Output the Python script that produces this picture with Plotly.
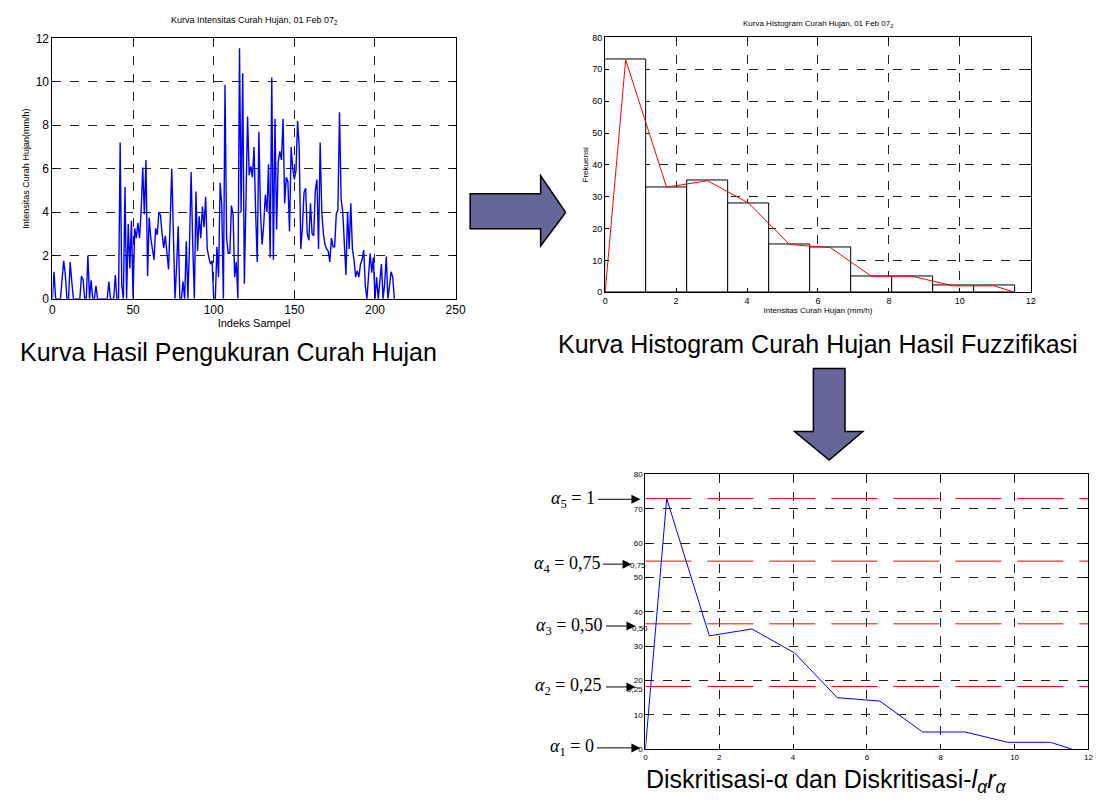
import plotly.graph_objects as go

W, H = 1109, 805

# ---------------- data ----------------
rain_intensity = [
    0, 1.25, 0, 0, 0, 0, 0.9, 1.75, 1.1, 0, 0, 1.7, 0.8, 0, 0, 0, 0, 0, 1.05, 0.9,
    0, 0, 2.0, 0, 0.85, 0, 0, 0.6, 0, 0, 0, 0, 0, 0, 0, 0.8, 0, 0, 0, 1.1,
    0, 0, 7.2, 0.6, 0, 5.15, 0, 3.45, 1.4, 3.6, 0, 3.25, 2.8, 3.5, 2.8, 4.0, 6.05, 3.9, 6.4, 1.05,
    3.75, 2.8, 2.3, 1.8, 3.25, 2.95, 4.0, 3.85, 3.0, 2.35, 2.9, 2.0, 1.35, 3.5, 6.0, 3.0, 0, 1.5, 3.35, 0,
    0, 0.8, 0, 2.65, 0, 2.5, 5.85, 2.5, 0, 4.95, 2.2, 3.8, 2.8, 4.25, 3.3, 4.7, 2.3, 1.9, 1.6, 1.75,
    0, 0, 2.4, 1.0, 5.35, 4.3, 0, 9.85, 2.8, 2.1, 2.1, 4.3, 3.9, 1.0, 1.7, 0, 11.55, 4.0, 10.4, 0.7,
    4.0, 8.4, 5.7, 6.1, 5.6, 7.0, 4.0, 1.7, 7.7, 4.0, 2.5, 3.4, 4.8, 4.0, 6.2, 1.9, 10.2, 1.8, 8.3, 3.2,
    6.3, 6.8, 6.4, 8.3, 4.4, 5.6, 5.4, 3.1, 7.0, 6.0, 5.5, 5.9, 8.2, 7.0, 2.3, 3.3, 4.9, 5.1, 3.0, 2.7,
    4.4, 3.0, 2.9, 5.0, 5.5, 2.3, 7.2, 4.0, 3.0, 2.5, 2.3, 2.2, 1.7, 2.8, 2.4, 2.4, 3.9, 4.1, 8.6, 4.6,
    4.0, 2.5, 1.1, 4.0, 2.3, 4.4, 2.3, 1.8, 1.0, 1.3, 1.0, 1.6, 1.8, 2.25, 0.6, 0, 1.0, 2.1, 1.2, 1.9,
    0, 1.0, 0, 0.8, 1.6, 0, 0.7, 1.95, 0, 0.6, 1.25, 1.0, 0,
]
sample_index = list(range(len(rain_intensity)))

hist_max = 11.55
hist_bins = 10
hist_counts = [73, 33, 35, 28, 15, 14, 5, 5, 2, 2]
bin_width = hist_max / hist_bins
bin_centers = [(i + 0.5) * bin_width for i in range(hist_bins)]

poly_x = [0] + bin_centers + [hist_max]
poly_y = [0] + hist_counts + [0]

alpha_levels = [0, 0.25, 0.50, 0.75, 1]
alpha_labels = ["0", "0,25", "0,50", "0,75", "1"]
alpha_cut = [a * max(hist_counts) for a in alpha_levels]

x_ticks1 = [0, 50, 100, 150, 200, 250]
y_ticks1 = [0, 2, 4, 6, 8, 10, 12]
x_ticks2 = [0, 2, 4, 6, 8, 10, 12]
y_ticks2 = [0, 10, 20, 30, 40, 50, 60, 70, 80]

# ---------------- helpers ----------------
def PX(x):
    return x / W


def PY(y):
    return 1 - y / H


FONT = "Liberation Sans, Arial, sans-serif"
SERIF = "Liberation Serif, Times New Roman, serif"

fig = go.Figure()

# Plot 1: rainfall intensity
fig.add_trace(go.Scatter(x=sample_index, y=rain_intensity, mode="lines",
                         line=dict(color="#0000FF", width=1.4),
                         xaxis="x", yaxis="y", showlegend=False))

# Plot 2: histogram
fig.add_trace(go.Bar(x=bin_centers, y=hist_counts, width=bin_width,
                     marker=dict(color="white", line=dict(color="black", width=1)),
                     xaxis="x2", yaxis="y2", showlegend=False))
fig.add_trace(go.Scatter(x=poly_x, y=poly_y, mode="lines",
                         line=dict(color="#FF0000", width=1),
                         xaxis="x2", yaxis="y2", showlegend=False))

# Plot 3: discretisation
for c in alpha_cut[1:]:
    fig.add_trace(go.Scatter(x=[0, 12], y=[c, c], mode="lines",
                             line=dict(color="#FF0000", width=1, dash="46px,16px"),
                             xaxis="x3", yaxis="y3", showlegend=False))
fig.add_trace(go.Scatter(x=poly_x, y=poly_y, mode="lines",
                         line=dict(color="#0000FF", width=1),
                         xaxis="x3", yaxis="y3", showlegend=False))


def axis_style(domain, rng, ticks, size, anchor):
    return dict(domain=domain, range=rng, tickvals=ticks, ticktext=[str(t) for t in ticks],
                showline=True, linecolor="black", linewidth=1, mirror="ticks",
                ticks="inside", ticklen=4, tickcolor="black",
                showgrid=True, gridcolor="#222222", griddash="dash", gridwidth=1,
                zeroline=False, anchor=anchor,
                tickfont=dict(family=FONT, size=size, color="black"))


xa1 = axis_style([PX(50), PX(458)], [0, 250], x_ticks1, 12, "y")
xa1["title"] = dict(text="Indeks Sampel", font=dict(family=FONT, size=11, color="black"), standoff=2)
ya1 = axis_style([PY(297), PY(32)], [0, 12], y_ticks1, 12, "x")
ya1["title"] = dict(text="Intensitas Curah Hujan(mm/h)", font=dict(family=FONT, size=9, color="black"), standoff=4)

xa2 = axis_style([PX(609.3), PX(1040)], [0, 12], x_ticks2, 9, "y2")
xa2["title"] = dict(text="Intensitas Curah Hujan (mm/h)", font=dict(family=FONT, size=8, color="black"), standoff=1)
ya2 = axis_style([PY(290.3), PY(31)], [0, 80], y_ticks2, 9, "x2")
ya2["title"] = dict(text="Frekuensi", font=dict(family=FONT, size=8, color="black"), standoff=2)

xa3 = axis_style([PX(650), PX(1098.3)], [0, 12], x_ticks2, 8, "y3")
ya3 = axis_style([PY(755.3), PY(475.7)], [0, 80], y_ticks2, 8, "x3")


def txt(text, xpx, ypx, size, family=FONT, xanchor="center"):
    return dict(text=text, x=PX(xpx), y=PY(ypx), xref="paper", yref="paper",
                xanchor=xanchor, yanchor="middle", showarrow=False,
                font=dict(family=family, size=size, color="black"))


annotations = [
    txt("Kurva Intensitas Curah Hujan, 01 Feb 07<sub>2</sub>", 254, 14, 9),
    txt("Kurva Histogram Curah Hujan, 01 Feb 07<sub>2</sub>", 825, 17, 8),
    txt("Kurva Hasil Pengukuran Curah Hujan", 228, 351, 25),
    txt("Kurva Histogram Curah Hujan Hasil Fuzzifikasi", 825, 343, 25),
    txt("Diskritisasi-α dan Diskritisasi-<i>l<sub>α</sub>r<sub>α</sub></i>", 833, 788, 25),
]

# alpha labels + arrows (text right edge px, arrow tail px, arrow tip px, y px)
alpha_ann = [
    (0, 600, 600, 645, 754),
    (1, 607, 609, 640, 692),
    (2, 608, 609, 640, 630),
    (3, 606, 606, 636, 567),
    (4, 601, 601, 645, 501),
]
for idx, tr, tail, tip, ypx in alpha_ann:
    label = "<i>α</i><sub>%d</sub> = %s" % (idx + 1, alpha_labels[idx])
    annotations.append(txt(label, tr, ypx, 18, family=SERIF, xanchor="right"))
    annotations.append(dict(text="", x=PX(tip), y=PY(ypx), xref="paper", yref="paper",
                            showarrow=True, ax=tail - tip, ay=0, arrowhead=2, arrowsize=1.8,
                            arrowwidth=1, arrowcolor="black"))

# extra small tick labels at alpha cuts
for lab, xr, ypx in [("0,75", 653, 568), ("0,50", 655, 632), ("0,25", 650, 695)]:
    annotations.append(txt(lab, xr, ypx, 8, xanchor="right"))


def path(points):
    return "M " + " L ".join("%f,%f" % (PX(x), PY(y)) for x, y in points) + " Z"


right_arrow = [(472.7, 190), (544, 190), (544, 171.7), (569.3, 209), (544, 243.3),
               (544, 225.7), (472.7, 225.7)]
down_arrow = [(820, 368), (852, 368), (852, 432), (870, 432), (836, 461), (801, 432), (820, 432)]

shapes = [
    dict(type="path", path=path(right_arrow), xref="paper", yref="paper",
         fillcolor="#666699", line=dict(color="black", width=1.5)),
    dict(type="path", path=path(down_arrow), xref="paper", yref="paper",
         fillcolor="#666699", line=dict(color="black", width=1.5)),
]

fig.update_layout(
    width=W, height=H, margin=dict(l=0, r=0, t=0, b=0),
    paper_bgcolor="white", plot_bgcolor="white",
    xaxis=xa1, yaxis=ya1, xaxis2=xa2, yaxis2=ya2, xaxis3=xa3, yaxis3=ya3,
    annotations=annotations, shapes=shapes, showlegend=False,
    bargap=0,
)

fig.write_html("out.html")
